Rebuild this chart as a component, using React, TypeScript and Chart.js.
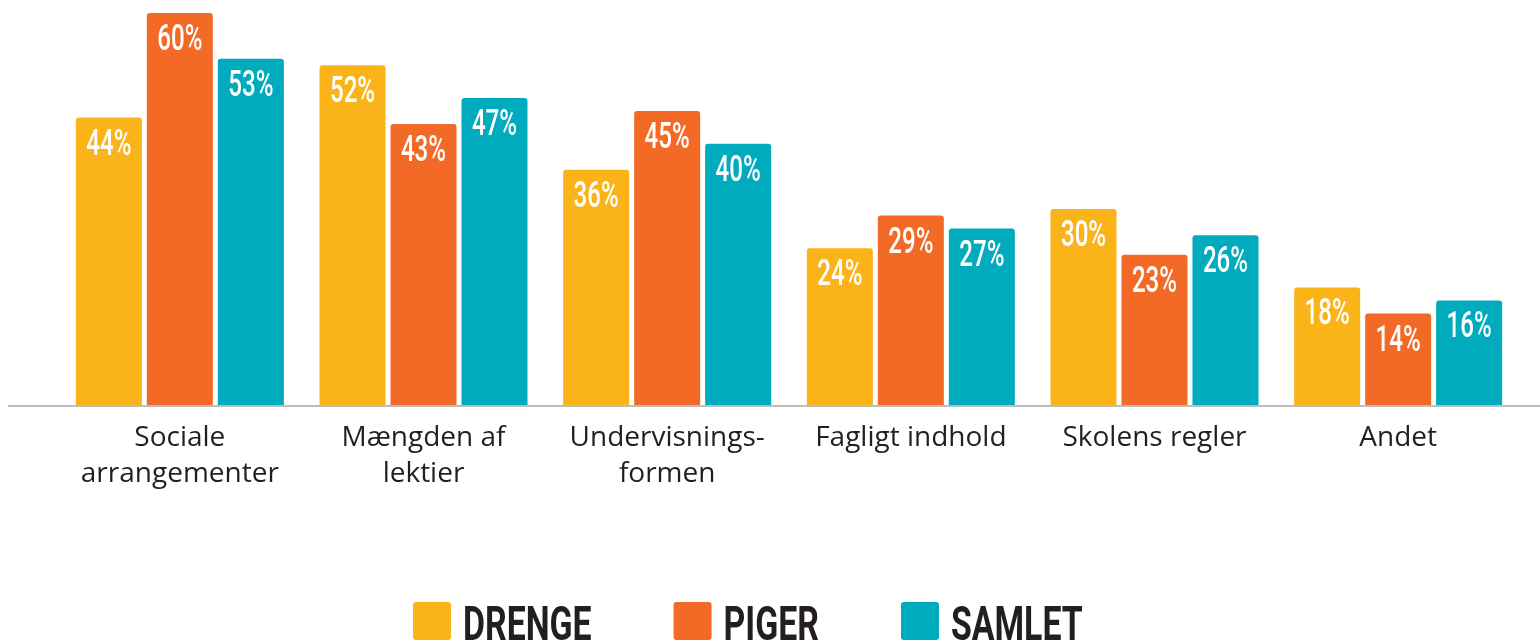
import React, { useEffect, useRef } from "react";
import { Chart, registerables } from "chart.js";

Chart.register(...registerables);

const categories: string[][] = [
  ["Sociale", "arrangementer"],
  ["Mængden af", "lektier"],
  ["Undervisnings-", "formen"],
  ["Fagligt indhold"],
  ["Skolens regler"],
  ["Andet"],
];
const seriesNames = ["DRENGE", "PIGER", "SAMLET"];
const drenge = [44, 52, 36, 24, 30, 18];
const piger = [60, 43, 45, 29, 23, 14];
const samlet = [53, 47, 40, 27, 26, 16];
const colors = ["#FBB31A", "#F36A27", "#00ABBD"];

const drawCondensed = (
  ctx: CanvasRenderingContext2D,
  text: string,
  x: number,
  y: number,
  font: string,
  sx: number,
  align: "center" | "left"
) => {
  ctx.save();
  ctx.font = font;
  const w = ctx.measureText(text).width * sx;
  ctx.translate(align === "center" ? x - w / 2 : x, y);
  ctx.scale(sx, 1);
  ctx.textAlign = "left";
  ctx.textBaseline = "alphabetic";
  ctx.fillText(text, 0, 0);
  ctx.restore();
  return w;
};

const overlayPlugin = {
  id: "overlay",
  afterDatasetsDraw(chart: any) {
    const ctx = chart.ctx as CanvasRenderingContext2D;
    // axis line
    const yBase = chart.scales.y.getPixelForValue(0);
    ctx.save();
    ctx.strokeStyle = "#BDBDBD";
    ctx.lineWidth = 2;
    ctx.beginPath();
    ctx.moveTo(8, yBase + 1);
    ctx.lineTo(chart.width, yBase + 1);
    ctx.stroke();
    ctx.restore();
    // value labels
    ctx.save();
    ctx.fillStyle = "#FFFFFF";
    chart.data.datasets.forEach((ds: any, di: number) => {
      const meta = chart.getDatasetMeta(di);
      meta.data.forEach((bar: any, i: number) => {
        drawCondensed(
          ctx,
          ds.data[i] + "%",
          bar.x,
          bar.y + 37,
          "500 36px Roboto",
          0.67,
          "center"
        );
      });
    });
    ctx.restore();
    // legend
    ctx.save();
    let x = 413;
    const top = 602;
    const box = 38;
    chart.data.datasets.forEach((ds: any, di: number) => {
      ctx.fillStyle = colors[di];
      ctx.beginPath();
      (ctx as any).roundRect(x, top, box, box, 3);
      ctx.fill();
      x += box + 12;
      ctx.fillStyle = "#231F20";
      const w = drawCondensed(ctx, ds.label, x, top + box, "bold 49px Roboto", 0.69, "left");
      x += w + 82;
    });
    ctx.restore();
  },
};

export default function App() {
  const ref = useRef<HTMLCanvasElement | null>(null);
  useEffect(() => {
    if (!ref.current) return;
    const values = [drenge, piger, samlet];
    const chart = new Chart(ref.current, {
      type: "bar",
      data: {
        labels: categories,
        datasets: seriesNames.map((name, i) => ({
          label: name,
          data: values[i],
          backgroundColor: colors[i],
          borderRadius: { topLeft: 3, topRight: 3, bottomLeft: 0, bottomRight: 0 },
          borderSkipped: "start",
          categoryPercentage: 0.874,
          barPercentage: 0.93,
        })),
      },
      options: {
        animation: false,
        responsive: true,
        maintainAspectRatio: false,
        layout: { padding: { top: 13, left: 58, right: 20, bottom: 0 } },
        plugins: {
          legend: { display: false },
          tooltip: { enabled: false },
        },
        scales: {
          x: {
            grid: { display: false },
            border: { display: false },
            ticks: {
              color: "#231F20",
              padding: 7,
              font: { family: "'Open Sans', sans-serif", size: 28, lineHeight: "36px" as any },
              maxRotation: 0,
              autoSkip: false,
            },
            afterFit: (scale: any) => {
              scale.height = 237;
            },
          },
          y: {
            display: false,
            min: 0,
            max: 60,
          },
        },
      },
      plugins: [overlayPlugin],
    });
    return () => chart.destroy();
  }, []);
  return (
    <div style={{ position: "absolute", left: 0, top: 0, width: 1540, height: 642, background: "#fff" }}>
      <canvas ref={ref} />
    </div>
  );
}
